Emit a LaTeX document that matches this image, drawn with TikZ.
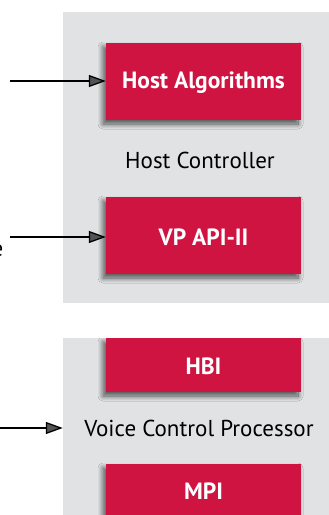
\documentclass[tikz,border=0pt]{standalone}
\usepackage{fontspec}
\setmainfont{PT Sans}
\usetikzlibrary{arrows.meta,shadows.blur}
\definecolor{boxred}{HTML}{D01442}
\definecolor{panelgray}{HTML}{E1E2E4}
\tikzset{
  panel/.style={fill=panelgray,draw=none},
  redbox/.style={fill=boxred,draw=none,
    blur shadow={shadow xshift=-3pt,shadow yshift=-4pt,shadow blur steps=12,shadow blur radius=5pt,shadow opacity=65}},
  boxlabel/.style={text=white,font=\fontsize{23.5}{26}\selectfont\bfseries,inner sep=0pt},
  plainlabel/.style={text=black,font=\fontsize{23}{26}\selectfont,inner sep=0pt},
  conn/.style={line width=1.3pt,-{Triangle[length=17pt,width=12pt]}}
}
\begin{document}
\begin{tikzpicture}[x=1pt,y=-1pt]
\useasboundingbox (0,0) rectangle (329,515);
% panels
\fill[panel] (63,12) rectangle (329,303);
\fill[panel] (63,338) rectangle (329,515);
% red boxes
\begin{scope}
\clip (63,338) rectangle (329,515);
\path[redbox] (106,338) rectangle (301,392);
\path[redbox] (106,464) rectangle (301,530);
\end{scope}
\path[redbox] (106,43) rectangle (301,120);
\path[redbox] (106,197) rectangle (301,274);
% nodes
\node[inner sep=0pt,minimum width=195pt,minimum height=77pt] (ha) at (203.5,81.5) {};
\node[boxlabel] at (203.5,83) {Host Algorithms};
\node[inner sep=0pt,minimum width=195pt,minimum height=77pt] (vp) at (203.5,235.5) {};
\node[boxlabel] at (203.5,237) {VP API-II};
\node[boxlabel] (hbi) at (203.5,366) {HBI};
\node[boxlabel] (mpi) at (203.5,491) {MPI};
\node[plainlabel] (hc) at (200,160) {Host Controller};
\node[inner sep=0pt,minimum width=266pt,minimum height=177pt] (vcpp) at (196,426.5) {};
\node[plainlabel] (vcp) at (199,428) {Voice Control Processor};
\node[plainlabel,anchor=east] (cut) at (3.5,251) {e};
% connectors
\coordinate (a1) at (10,81);
\coordinate (a2) at (10,237);
\coordinate (a3) at (-2,428);
\draw[conn] (a1) -- (ha.west |- a1);
\draw[conn] (a2) -- (vp.west |- a2);
\draw[conn] (a3) -- (vcpp.west |- a3);
\end{tikzpicture}
\end{document}
